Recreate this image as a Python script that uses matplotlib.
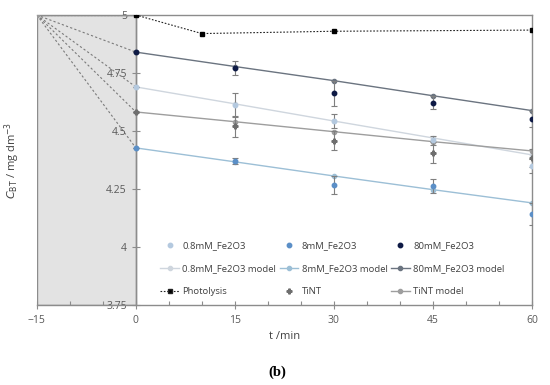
import numpy as np
import matplotlib
matplotlib.use("Agg")
import matplotlib.pyplot as plt
from matplotlib.ticker import MultipleLocator
from matplotlib.lines import Line2D

plt.rcParams['font.family'] = ['Open Sans', 'DejaVu Sans']

# ── data ────────────────────────────────────────────────────────────────────
t = [0, 15, 30, 45, 60]
t_dark = [-15, 0]
c_start = 5.0

c_08 = [4.69, 4.612, 4.543, 4.46, 4.35]
e_08 = [0, 0.053, 0.03, 0.02, 0.03]
m_08 = [4.69, 4.617, 4.543, 4.47, 4.397]

c_8 = [4.427, 4.37, 4.267, 4.263, 4.142]
e_8 = [0, 0.012, 0.037, 0.03, 0.047]
m_8 = [4.427, 4.367, 4.306, 4.247, 4.19]

c_80 = [4.84, 4.773, 4.662, 4.622, 4.552]
e_80 = [0, 0.03, 0.054, 0.027, 0.033]
m_80 = [4.84, 4.778, 4.717, 4.652, 4.588]

c_tint = [4.582, 4.52, 4.458, 4.406, 4.384]
e_tint = [0, 0.045, 0.04, 0.045, 0.04]
m_tint = [4.582, 4.54, 4.497, 4.454, 4.414]

t_ph = [0, 10, 30, 60]
c_ph = [5.0, 4.92, 4.93, 4.935]

# colours
col_08, col_8, col_80, col_t = '#b4c9df', '#5b8fc7', '#0e1a45', '#6e6e6e'
mcol = {'08': '#cfd6de', '8': '#9cbfd6', '80': '#6b7480', 't': '#9e9e9e'}

# ── figure ─────────────────────────────────────────────────────────────────
fig = plt.figure(figsize=(5.5, 3.85), dpi=100)
ax = fig.add_axes([0.067, 0.208, 0.9, 0.753])

grey = '#8c8c8c'
ax.axvspan(-15, 0, facecolor='#e3e3e3', edgecolor=grey, linewidth=1.0, zorder=0)

# dotted lead-in lines in the dark period
for m0 in (m_80, m_08, m_tint, m_8):
    ax.plot(t_dark, [c_start, m0[0]], color='#7a7a7a', ls=(0, (2, 2)), lw=0.8, zorder=1)
ax.plot([-15], [c_start], 'o', color='#9a9a9a', ms=3, zorder=3)

# model lines
ax.plot(t, m_08, '-o', color=mcol['08'], lw=1.0, ms=3, zorder=2)
ax.plot(t, m_8, '-o', color=mcol['8'], lw=1.0, ms=3, zorder=2)
ax.plot(t, m_80, '-o', color=mcol['80'], lw=1.0, ms=3, zorder=2)
ax.plot(t, m_tint, '-o', color=mcol['t'], lw=1.0, ms=3, zorder=2)

# measured data
kw = dict(ls='none', elinewidth=0.8, capsize=2, capthick=0.8, ecolor='#7f7f7f', zorder=4)
ax.errorbar(t, c_08, yerr=e_08, color=col_08, marker='o', ms=3.2, **kw)
ax.errorbar(t, c_8, yerr=e_8, color=col_8, marker='o', ms=3.2, **kw)
ax.errorbar(t, c_80, yerr=e_80, color=col_80, marker='o', ms=3.2, **kw)
ax.errorbar(t, c_tint, yerr=e_tint, color=col_t, marker='P', ms=3.5, **kw)

# photolysis
ax.plot([-15, 0], [c_start, c_ph[0]], color='#333333', ls=(0, (1.5, 1.5)), lw=0.8, zorder=1)
ax.plot(t_ph, c_ph, color='#222222', ls=(0, (1.5, 1.5)), lw=0.8,
        marker='s', ms=3.5, mfc='black', mec='black', zorder=4)

# ── axes styling ───────────────────────────────────────────────────────────
ax.set_xlim(-15, 60)
ax.set_ylim(3.75, 5.0)
ax.spines['left'].set_position(('data', 0))
for s in ax.spines.values():
    s.set_color(grey)
    s.set_linewidth(1.0)

ax.xaxis.set_major_locator(MultipleLocator(15))
ax.xaxis.set_minor_locator(MultipleLocator(5))
ax.set_yticks([3.75, 4, 4.25, 4.5, 4.75, 5])
ax.set_yticklabels(['3.75', '4', '4.25', '4.5', '4.75', '5'])
ax.tick_params(axis='both', which='major', direction='inout', length=6, width=0.8,
               color=grey, labelcolor='#595959', labelsize=7.5)
ax.tick_params(axis='x', which='minor', direction='in', length=3, width=0.8, color=grey)
ax.tick_params(axis='x', which='major', pad=4)

ax.set_xlabel('t /min', fontsize=8, color='#404040')
ax.xaxis.set_label_coords(0.5, -0.09)
ax.set_ylabel(r'$C_{\mathrm{BT}}$ / mg dm$^{-3}$', fontsize=8, color='#404040')
ax.yaxis.set_label_coords(-0.03, 0.5)

# legend: proxies, column-wise order so rows read across like the original
def pt(c, m='o', ms=3.2):
    return Line2D([], [], ls='none', marker=m, color=c, ms=ms)

def ln(c):
    return Line2D([], [], ls='-', marker='o', color=c, lw=1.0, ms=3)

handles = [pt(col_08), ln(mcol['08']),
           Line2D([], [], color='#222222', ls=(0, (1.5, 1.5)), lw=0.8, marker='s', ms=3.5, mfc='black'),
           pt(col_8), ln(mcol['8']), pt(col_t, 'P', 3.5),
           pt(col_80), ln(mcol['80']), ln(mcol['t'])]
labels = ['0.8mM_Fe2O3', '0.8mM_Fe2O3 model', 'Photolysis',
          '8mM_Fe2O3', '8mM_Fe2O3 model', 'TiNT',
          '80mM_Fe2O3', '80mM_Fe2O3 model', 'TiNT model']
ax.legend(handles, labels, ncol=3, loc='lower left', bbox_to_anchor=(0.232, 0.0),
          frameon=False, fontsize=6.8, labelcolor='#404040', handlelength=2.0,
          columnspacing=0.35, labelspacing=1.5, handletextpad=0.35)

fig.text(0.504, 0.033, '(b)', ha='center', va='center', fontsize=10.5,
         family='Liberation Serif', fontweight='bold')

fig.savefig('out.png', dpi=100)
